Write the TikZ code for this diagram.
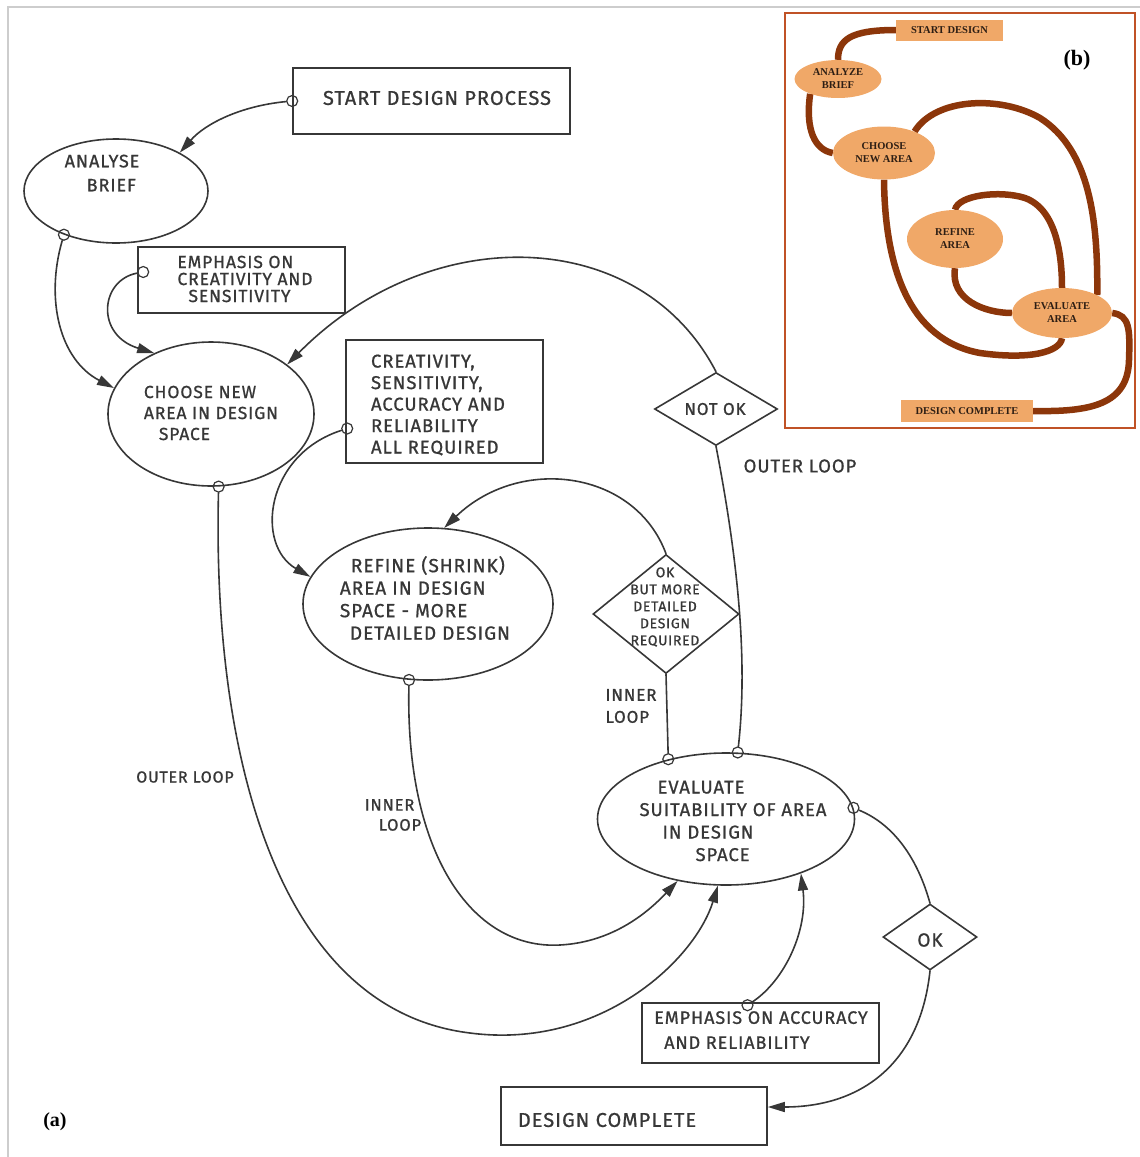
\documentclass[tikz,border=0pt]{standalone}
\usepackage{fontspec}
\setmainfont{Liberation Serif}
\newfontfamily\handfont[FakeBold=0.9,LetterSpace=5]{Fira Sans}
\usetikzlibrary{shapes.geometric,arrows.meta}
\newcommand\handsize[2]{\handfont\fontsize{#1}{#2}\selectfont}
\newcommand\tagsize[2]{\rmfamily\bfseries\fontsize{#1}{#2}\selectfont}

\definecolor{ink}{RGB}{55,55,55}
\definecolor{pageframe}{RGB}{205,205,205}
\definecolor{peach}{RGB}{240,168,104}
\definecolor{rust}{RGB}{140,54,10}
\definecolor{insetframe}{RGB}{192,82,38}
\definecolor{insettext}{RGB}{45,30,20}

\pgfdeclarelayer{bg}
\pgfsetlayers{bg,main}

\begin{document}
\begin{tikzpicture}[x=1pt,y=-1pt,
  txt/.style={inner sep=0pt,text=ink,align=left},
  stroke/.style={draw=ink,line width=1.6pt},
  link/.style={stroke,line cap=round},
  arrow/.style={link,-{Triangle[length=17pt,width=10pt]}},
  port/.style={circle,draw=ink,line width=1.2pt,minimum size=11pt,inner sep=0pt},
  boxshape/.style={rectangle,stroke,inner sep=0pt},
  oval/.style={ellipse,stroke,inner sep=0pt},
  decision/.style={diamond,stroke,inner sep=0pt},
  ibox/.style={rectangle,fill=peach,inner sep=0pt,text=insettext,align=center,font={\tagsize{10.5}{13}}},
  ioval/.style={ellipse,fill=peach,inner sep=0pt,text=insettext,align=center,font={\tagsize{10.5}{13}}},
  iline/.style={draw=rust,line width=6.5pt}
]
\useasboundingbox (0,0) rectangle (1140,1157);
\draw[pageframe,line width=1.2pt] (8,1157) -- (8,7) -- (1140,7);

% ---------------- main flow chart ----------------
\node[boxshape,minimum width=277pt,minimum height=66pt,
  label={[txt,font={\handsize{20}{24}},xshift=5.5pt,yshift=3pt]center:START DESIGN PROCESS}]
  (start) at (431.5,101) {};
\node[oval,minimum width=184pt,minimum height=104pt,
  label={[txt,font={\handsize{18}{24}},xshift=-14pt,yshift=18pt]center:ANALYSE\\\hspace*{22pt}BRIEF}]
  (analyse) at (116,191) {};
\node[boxshape,minimum width=207pt,minimum height=66pt,
  label={[txt,font={\handsize{17.5}{17}},xshift=3.5pt,yshift=1pt]center:EMPHASIS ON\\CREATIVITY AND\\\hspace*{11pt}SENSITIVITY}]
  (emph1) at (241.5,280) {};
\node[oval,minimum width=206pt,minimum height=144pt,
  label={[txt,font={\handsize{17.5}{21}},xshift=0pt,yshift=1pt]center:CHOOSE NEW\\AREA IN DESIGN\\\hspace*{15pt}SPACE}]
  (choose) at (211,414) {};
\node[boxshape,minimum width=197pt,minimum height=123pt,
  label={[txt,font={\handsize{18.5}{21.5}},xshift=-6.5pt,yshift=-3.5pt]center:CREATIVITY,\\SENSITIVITY,\\ACCURACY AND\\RELIABILITY\\ALL REQUIRED}]
  (creat) at (444.5,401.5) {};
\node[oval,minimum width=250pt,minimum height=152pt,
  label={[txt,font={\handsize{19}{22.5}},xshift=-3pt,yshift=6pt]center:\hspace*{11pt}REFINE (SHRINK)\\AREA IN DESIGN\\SPACE - MORE\\\hspace*{10pt}DETAILED DESIGN}]
  (refine) at (428,604) {};
\node[decision,minimum width=123pt,minimum height=73pt,
  label={[txt,font={\handsize{17}{20}},xshift=-1pt]center:NOT OK}]
  (notok) at (716,409) {};
\node[decision,minimum width=146pt,minimum height=119pt,
  label={[txt,align=center,font={\handsize{14}{17}},xshift=-1pt,yshift=7pt]center:OK\\BUT MORE\\DETAILED\\DESIGN\\REQUIRED}]
  (okmore) at (666,614) {};
\node[oval,minimum width=257pt,minimum height=132pt,
  label={[txt,font={\handsize{18.5}{22.5}},xshift=7pt,yshift=-2pt]center:\hspace*{18pt}EVALUATE\\SUITABILITY OF AREA\\\hspace*{23pt}IN DESIGN\\\hspace*{56pt}SPACE}]
  (evaluate) at (726,819) {};
\node[decision,minimum width=94pt,minimum height=66pt,
  label={[txt,font={\handsize{19}{20}},yshift=-3pt]center:OK}]
  (ok) at (930,937) {};
\node[boxshape,minimum width=237pt,minimum height=60pt,
  label={[txt,font={\handsize{18}{25}},xshift=0.5pt,yshift=3pt]center:EMPHASIS ON ACCURACY\\\hspace*{10pt}AND RELIABILITY}]
  (emph2) at (760.5,1033) {};
\node[boxshape,minimum width=266pt,minimum height=58pt,
  label={[txt,font={\handsize{20}{24}},xshift=-27pt,yshift=-4pt]center:DESIGN COMPLETE}]
  (done) at (634,1116) {};

% connection points marked with small circles
\node[port] (pStart)   at (start.west) {};
\node[port] (pAnalyse) at (analyse.-140) {};
\node[port] (pEmph1)   at ([shift={(6,-8)}]emph1.west) {};
\node[port] (pChoose)  at (choose.-84) {};
\node[port] (pCreat)   at ([shift={(2,27)}]creat.west) {};
\node[port] (pRefine)  at (refine.-104) {};
\node[port] (pEvalA)   at (evaluate.134) {};
\node[port] (pEvalB)   at (evaluate.80) {};
\node[port] (pEval)    at (evaluate.5) {};
\node[port] (pEmph2)   at ([shift={(-13,3)}]emph2.north) {};

% connectors
\draw[arrow] (pStart) .. controls (240,106) and (205,124) .. (analyse.31);
\draw[arrow] (pAnalyse) .. controls (45,300) and (60,360) .. (choose.165);
\draw[arrow] (pEmph1) .. controls (100,280) and (95,335) .. (choose.133);
\draw[arrow] (notok.north) .. controls (640,225) and (430,220) .. (choose.33);
\draw[arrow] (pCreat) .. controls (265,455) and (255,545) .. (refine.167);
\draw[arrow] (okmore.north) .. controls (635,470) and (520,455) .. (refine.78);
\draw[arrow] (pRefine) .. controls (405,850) and (470,950) .. (560,945)
             .. controls (615,942) and (650,910) .. (evaluate.-128);
\draw[arrow] (pChoose) .. controls (212,760) and (280,1010) .. (470,1033)
             .. controls (600,1050) and (695,960) .. (evaluate.-97);
\draw[arrow] (pEmph2) .. controls (785,980) and (808,930) .. (evaluate.-36);
\draw[link] (notok.south) .. controls (738,560) and (748,660) .. (pEvalB);
\draw[link] (okmore.south) -- (pEvalA);
\draw[link] (pEval) .. controls (895,825) and (918,860) .. (ok.north);
\draw[arrow] (ok.south) .. controls (920,1065) and (860,1107) .. ([yshift=9pt]done.east);

% loop annotations
\node[txt,font={\handsize{18.5}{20}}] (outerR) at (800,466) {OUTER LOOP};
\node[txt,font={\handsize{17}{22}}] (innerR) at (631,706) {INNER\\LOOP};
\node[txt,font={\handsize{16}{18}}] (outerL) at (185,777) {OUTER LOOP};
\node[txt,font={\handsize{16.5}{20}}] (innerL) at (393,815) {INNER\\\hspace*{14pt}LOOP};

\node[font={\tagsize{20}{24}}] (tagA) at (55,1122) {(a)};

% ---------------- inset (b) ----------------
\node[draw=insetframe,line width=2pt,minimum width=350pt,minimum height=415pt,inner sep=0pt]
  (insetBox) at (960,220.5) {};
\node[font={\tagsize{22}{26}}] (tagB) at (1077,60) {(b)};

\node[ibox,minimum width=107pt,minimum height=21pt] (iStart) at (949.5,30) {START DESIGN};
\node[ioval,minimum width=87pt,minimum height=38pt] (iAnalyze) at (838,79) {ANALYZE\\BRIEF};
\node[ioval,minimum width=102pt,minimum height=53pt] (iChoose) at (884,153) {CHOOSE\\NEW AREA};
\node[ioval,minimum width=96pt,minimum height=58pt] (iRefine) at (955,239) {REFINE\\AREA};
\node[ioval,minimum width=100pt,minimum height=50pt] (iEval) at (1062,313) {EVALUATE\\AREA};
\node[ibox,minimum width=132pt,minimum height=22pt] (iDone) at (967,411) {DESIGN COMPLETE};

\begin{pgfonlayer}{bg}
\draw[iline] (iStart.west) .. controls (850,30) and (838,40) .. (iAnalyze.north);
\draw[iline] (iAnalyze.-152) .. controls (805,130) and (815,150) .. (iChoose.west);
\draw[iline] (iChoose.35) .. controls (935,98) and (1000,95) .. (1040,118)
             .. controls (1090,150) and (1098,220) .. (iEval.27);
\draw[iline] (iChoose.south) .. controls (885,270) and (910,340) .. (980,353)
             .. controls (1030,360) and (1060,352) .. (iEval.south);
\draw[iline] (iRefine.north) .. controls (958,195) and (1000,190) .. (1025,198)
             .. controls (1058,210) and (1062,260) .. (iEval.north);
\draw[iline] (iRefine.south) .. controls (950,300) and (985,313) .. (iEval.west);
\draw[iline] (iEval.east) .. controls (1130,315) and (1130,330) .. (1129,360)
             .. controls (1128,405) and (1090,412) .. (iDone.east);
\end{pgfonlayer}
\end{tikzpicture}
\end{document}
